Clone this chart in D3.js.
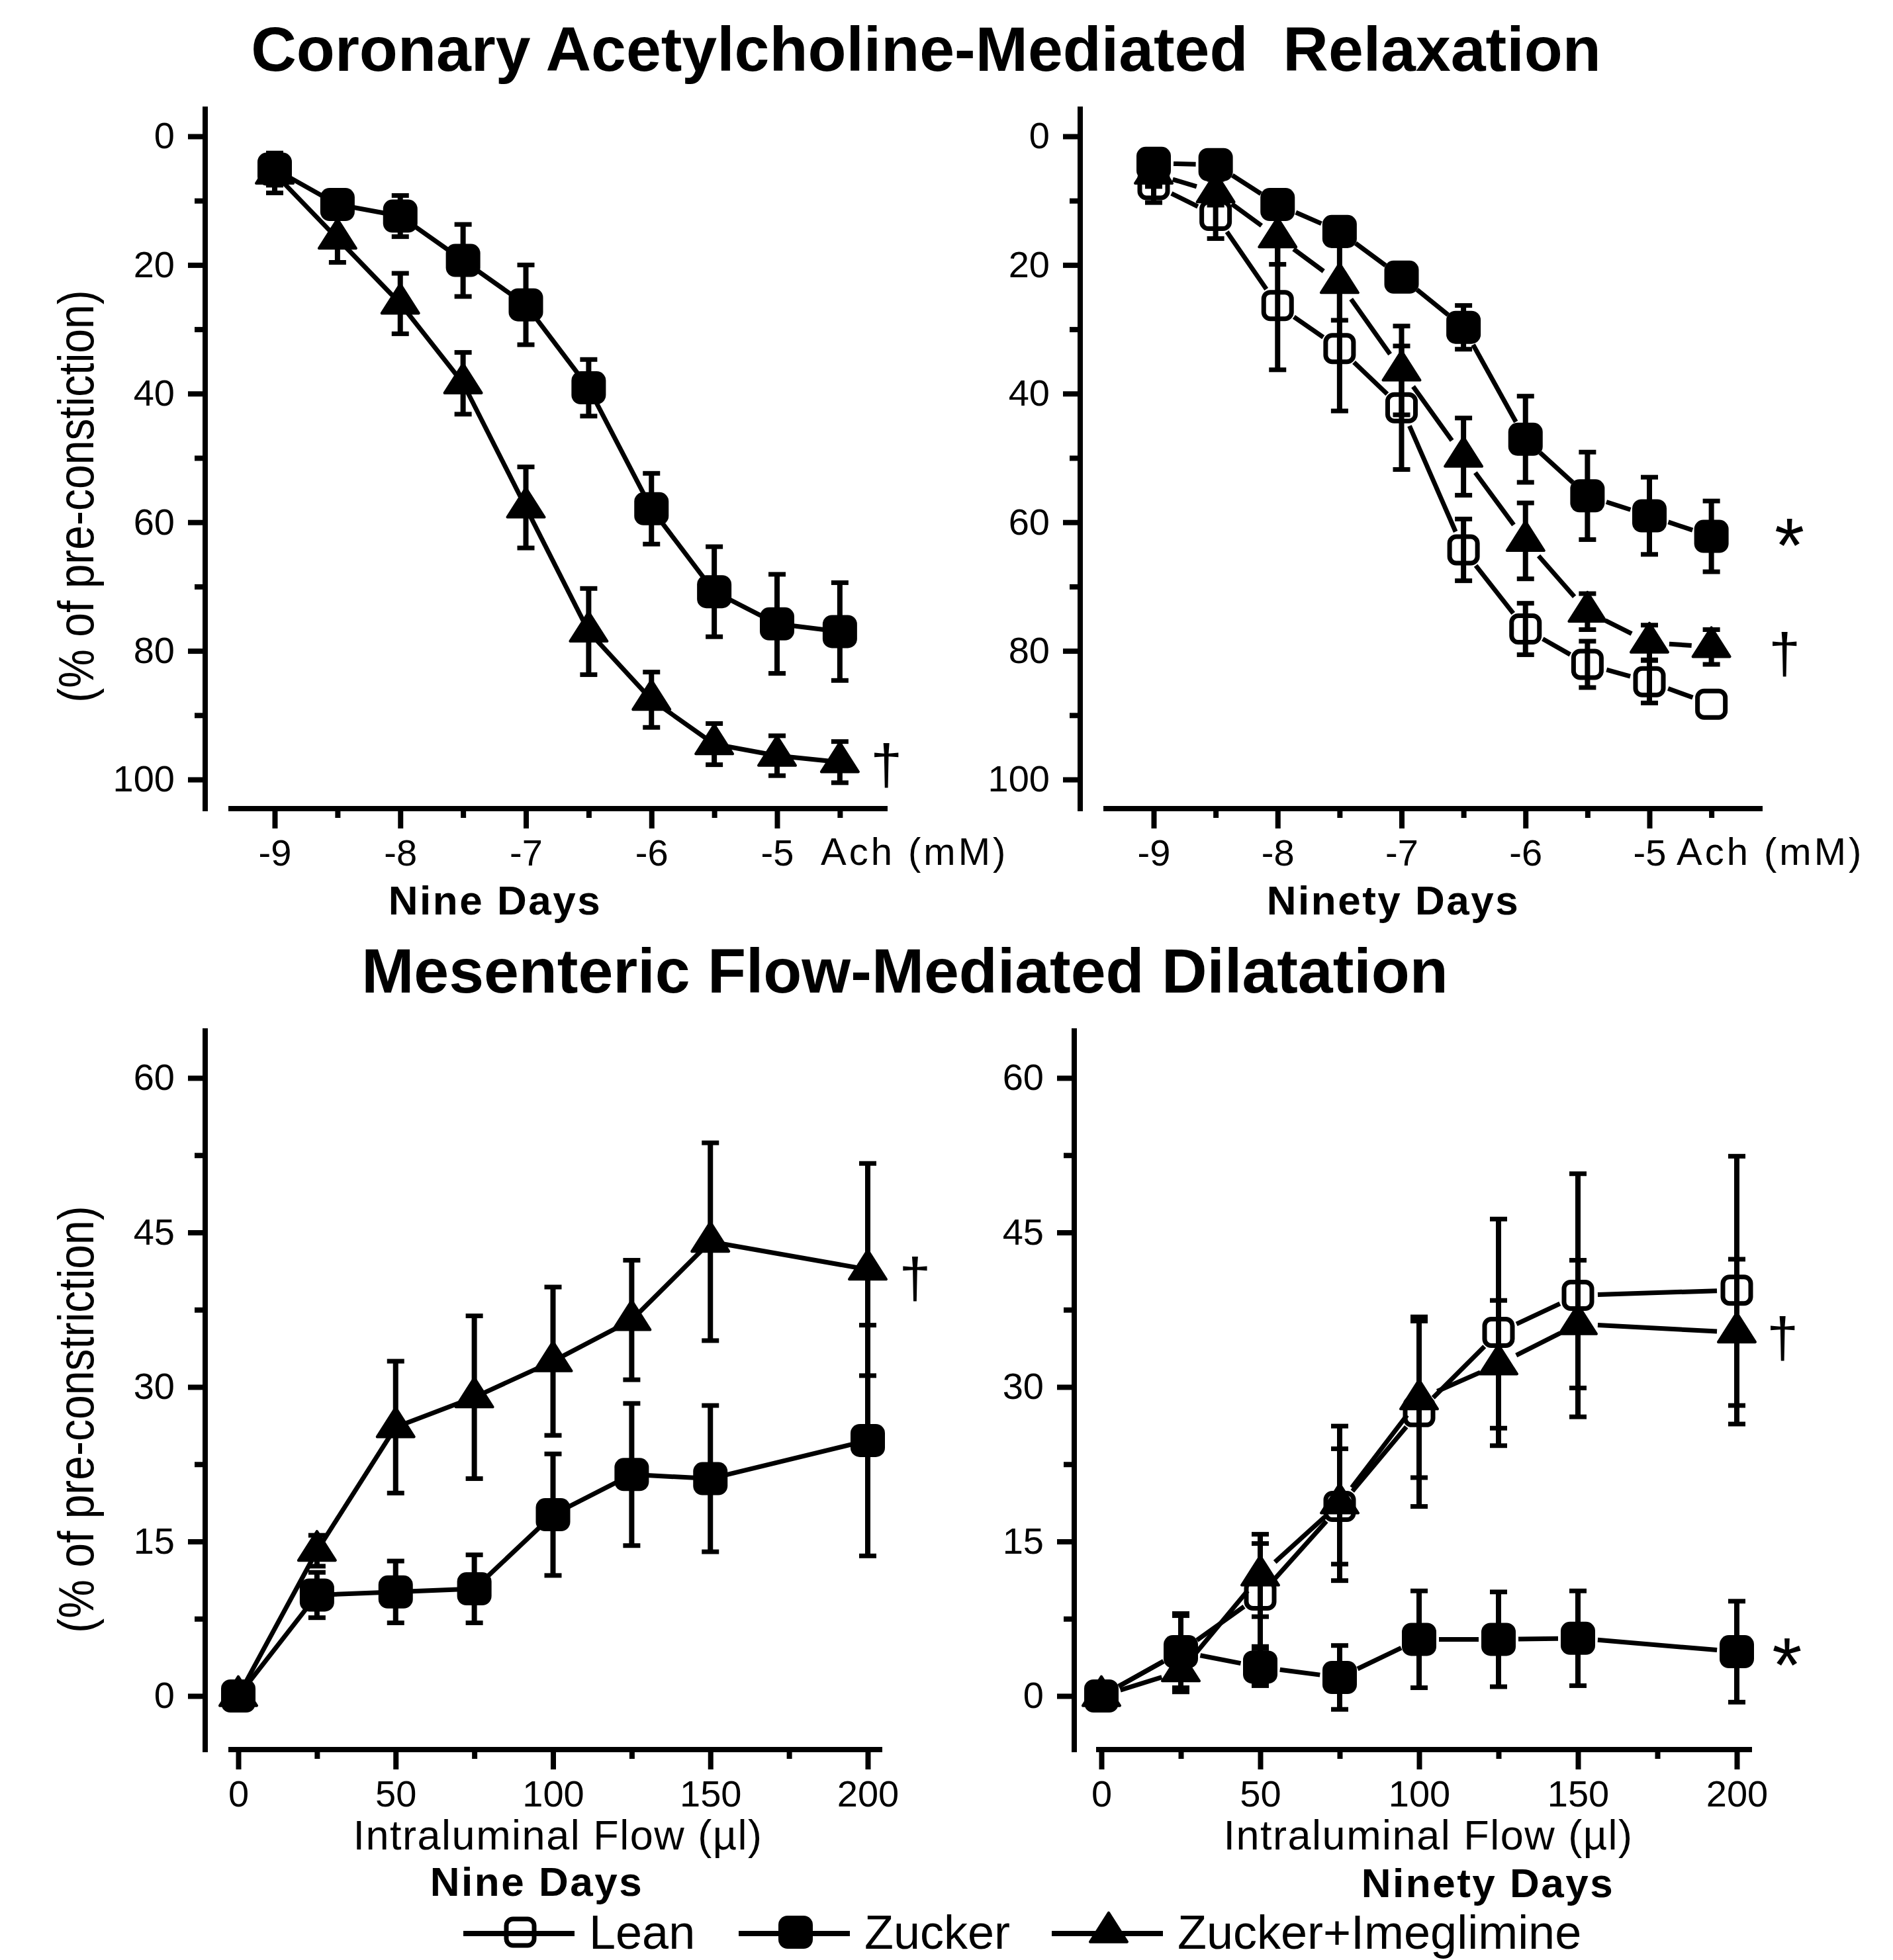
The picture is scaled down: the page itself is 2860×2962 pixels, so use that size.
<!DOCTYPE html>
<html>
<head>
<meta charset="utf-8">
<script src="https://cdn.jsdelivr.net/npm/d3@7"></script>
<style>
  body { margin: 0; background: #fff; }
  svg { display: block; }
  text { font-family: "Liberation Sans", Arial, Helvetica, sans-serif; fill: #000; }
</style>
</head>
<body>
<div id="chart"></div>
<script>
var width = 2860, height = 2962;

// x values
var achDose = [-9, -8.5, -8, -7.5, -7, -6.5, -6, -5.5, -5, -4.5];
var achTicks = [-9, -8, -7, -6, -5];
var achMinor = [-8.5, -7.5, -6.5, -5.5, -4.5];
var flowSteps = [0, 25, 50, 75, 100, 125, 150, 200];
var flowTicks = [0, 50, 100, 150, 200];
var flowMinor = [25, 75, 125, 175];
var relaxTicks = [0, 20, 40, 60, 80, 100];
var relaxMinor = [10, 30, 50, 70, 90];
var dilTicks = [0, 15, 30, 45, 60];
var dilMinor = [7.5, 22.5, 37.5, 52.5];

// coronary ACh relaxation, nine days
var zuckerAch9 = [5.1, 10.6, 12.4, 19.3, 26.2, 39.1, 57.9, 70.8, 75.8, 77.0];
var zuckerAch9Err = [2.5, 1.0, 3.2, 5.6, 6.2, 4.4, 5.5, 7.0, 7.7, 7.6];
var imegAch9 = [5.8, 15.9, 26.0, 38.4, 57.7, 77.0, 87.6, 94.5, 96.3, 97.3];
var imegAch9Err = [3.0, 3.7, 4.7, 4.8, 6.3, 6.7, 4.3, 3.2, 3.1, 3.2];

// coronary ACh relaxation, ninety days
var leanAch90 = [7.5, 12.3, 26.3, 33.0, 42.2, 64.3, 76.6, 82.1, 84.8, 88.3];
var leanAch90Err = [2.8, 3.6, 10.0, 9.7, 9.6, 4.8, 4.0, 3.6, 3.3, 0];
var zuckerAch90 = [4.2, 4.4, 10.6, 14.8, 21.9, 29.7, 47.1, 55.9, 59.0, 62.2];
var zuckerAch90Err = [1.0, 1.0, 1.5, 1.5, 1.0, 3.4, 6.7, 6.8, 6.0, 5.5];
var imegAch90 = [5.8, 8.7, 15.7, 22.8, 36.4, 49.8, 62.9, 73.9, 78.7, 79.4];
var imegAch90Err = [2.0, 2.0, 4.2, 5.8, 6.9, 6.0, 5.9, 2.8, 2.7, 2.7];

// mesenteric flow-mediated dilatation, nine days
var zuckerFlow9 = [0, 9.8, 10.1, 10.4, 17.6, 21.5, 21.1, 24.8];
var zuckerFlow9Err = [0, 2.2, 3.0, 3.3, 5.9, 6.9, 7.1, 11.2];
var imegFlow9 = [0, 14.1, 26.1, 29.0, 32.5, 36.5, 44.1, 41.4];
var imegFlow9Err = [0, 1.5, 6.4, 7.9, 7.2, 5.8, 9.6, 10.3];

// mesenteric flow-mediated dilatation, ninety days
var leanFlow90 = [0, 4.3, 9.8, 18.4, 27.6, 35.3, 38.9, 39.4];
var leanFlow90Err = [0, 3.5, 5.0, 5.6, 9.2, 11.0, 11.8, 13.0];
var zuckerFlow90 = [0, 4.3, 2.8, 1.8, 5.5, 5.5, 5.6, 4.3];
var zuckerFlow90Err = [0, 3.7, 1.8, 3.1, 4.7, 4.6, 4.6, 4.9];
var imegFlow90 = [0, 2.4, 11.7, 18.7, 28.8, 32.2, 36.1, 35.3];
var imegFlow90Err = [0, 2.0, 4.0, 7.5, 7.6, 6.2, 6.2, 7.1];

var groups = ["lean", "zucker", "imeg"];
var groupLabels = ["Lean", "Zucker", "Zucker+Imeglimine"];

var titles = ["Coronary Acetylcholine-Mediated  Relaxation", "Mesenteric Flow-Mediated Dilatation"];

var svg = d3.select("#chart")
    .append("svg")
    .attr("width", width)
    .attr("height", height);

// panel layout
var panels = [
    {
        x: d3.scaleLinear().domain([-9, -5]).range([415, 1174]),
        y: d3.scaleLinear().domain([0, 100]).range([206, 1178]),
        axisX: 310, axisTop: 161, axisY: 1222, axisFrom: 345, axisTo: 1341,
        xTicks: achTicks, xMinor: achMinor, yTicks: relaxTicks, yMinor: relaxMinor,
        xs: achDose, gap: 0,
        series: [
            { key: "zucker", v: zuckerAch9, e: zuckerAch9Err },
            { key: "imeg", v: imegAch9, e: imegAch9Err }
        ],
        unit: { text: "Ach (mM)", x: 1240 },
        sub: { text: "Nine Days", x: 748, y: 1382 },
        ylab: { text: "(% of pre-constiction)", cy: 750 },
        marks: [{ s: "\u2020", x: -4.13, y: 98.5 }]
    },
    {
        x: d3.scaleLinear().domain([-9, -5]).range([1743, 2492]),
        y: d3.scaleLinear().domain([0, 100]).range([206, 1178]),
        axisX: 1632, axisTop: 161, axisY: 1222, axisFrom: 1667, axisTo: 2663,
        xTicks: achTicks, xMinor: achMinor, yTicks: relaxTicks, yMinor: relaxMinor,
        xs: achDose, gap: 30,
        series: [
            { key: "lean", v: leanAch90, e: leanAch90Err },
            { key: "zucker", v: zuckerAch90, e: zuckerAch90Err },
            { key: "imeg", v: imegAch90, e: imegAch90Err }
        ],
        unit: { text: "Ach (mM)", x: 2533 },
        sub: { text: "Ninety Days", x: 2105, y: 1382 },
        marks: [{ s: "*", x: -3.87, y: 62.0 }, { s: "\u2020", x: -3.91, y: 81.2 }]
    },
    {
        x: d3.scaleLinear().domain([0, 200]).range([360, 1311]),
        y: d3.scaleLinear().domain([0, 60]).range([2563, 1629]),
        axisX: 310, axisTop: 1554, axisY: 2644, axisFrom: 345, axisTo: 1333,
        xTicks: flowTicks, xMinor: flowMinor, yTicks: dilTicks, yMinor: dilMinor,
        xs: flowSteps, gap: 0,
        series: [
            { key: "zucker", v: zuckerFlow9, e: zuckerFlow9Err },
            { key: "imeg", v: imegFlow9, e: imegFlow9Err }
        ],
        xlab: { text: "Intraluminal Flow (\u00b5l)", x: 843 },
        sub: { text: "Nine Days", x: 811, y: 2865 },
        ylab: { text: "(% of pre-constriction)", cy: 2145 },
        marks: [{ s: "\u2020", x: 215, y: 40.1 }]
    },
    {
        x: d3.scaleLinear().domain([0, 200]).range([1664, 2624]),
        y: d3.scaleLinear().domain([0, 60]).range([2563, 1629]),
        axisX: 1623, axisTop: 1554, axisY: 2644, axisFrom: 1656, axisTo: 2647,
        xTicks: flowTicks, xMinor: flowMinor, yTicks: dilTicks, yMinor: dilMinor,
        xs: flowSteps, gap: 30,
        series: [
            { key: "lean", v: leanFlow90, e: leanFlow90Err },
            { key: "zucker", v: zuckerFlow90, e: zuckerFlow90Err },
            { key: "imeg", v: imegFlow90, e: imegFlow90Err }
        ],
        xlab: { text: "Intraluminal Flow (\u00b5l)", x: 2158 },
        sub: { text: "Ninety Days", x: 2248, y: 2867 },
        marks: [{ s: "\u2020", x: 214.4, y: 34.3 }, { s: "*", x: 215.8, y: 4.0 }]
    }
];

// marker shapes
function drawMarker(g, key, cx, cy) {
    if (key === "zucker") {
        g.append("rect")
            .attr("x", cx - 26).attr("y", cy - 25)
            .attr("width", 52).attr("height", 50)
            .attr("rx", 14)
            .attr("fill", "#000");
    } else if (key === "lean") {
        g.append("rect")
            .attr("x", cx - 21).attr("y", cy - 20)
            .attr("width", 42).attr("height", 40)
            .attr("rx", 10)
            .attr("fill", "none")
            .attr("stroke", "#000")
            .attr("stroke-width", 7);
    } else {
        var w = 56, h = 44;
        g.append("path")
            .attr("d", "M" + cx + "," + (cy - 2 * h / 3) + "L" + (cx + w / 2) + "," + (cy + h / 3) + "L" + (cx - w / 2) + "," + (cy + h / 3) + "Z")
            .attr("fill", "#000")
            .attr("stroke", "#000")
            .attr("stroke-width", 4)
            .attr("stroke-linejoin", "round");
    }
}

titles.forEach(function (t, i) {
    svg.append("text")
        .attr("x", i === 0 ? 1399 : 1367)
        .attr("y", i === 0 ? 107 : 1500)
        .attr("text-anchor", "middle")
        .style("white-space", "pre")
        .attr("font-weight", "bold")
        .attr("font-size", 95)
        .text(t);
});

panels.forEach(function (p) {
    var g = svg.append("g");
    var x = p.x, y = p.y;

    // axis lines
    g.append("line")
        .attr("x1", p.axisX).attr("x2", p.axisX)
        .attr("y1", p.axisTop).attr("y2", p.axisY + 4)
        .attr("stroke", "#000").attr("stroke-width", 8);
    g.append("line")
        .attr("x1", p.axisFrom).attr("x2", p.axisTo)
        .attr("y1", p.axisY).attr("y2", p.axisY)
        .attr("stroke", "#000").attr("stroke-width", 8);

    // y ticks
    var gy = g.append("g").attr("transform", "translate(" + p.axisX + ",0)");
    gy.call(d3.axisLeft(y).tickValues(p.yTicks).tickSize(26).tickPadding(20).tickFormat(function (d) { return String(d); }));
    gy.append("g").call(d3.axisLeft(y).tickValues(p.yMinor).tickSize(16).tickFormat(""));

    // x ticks
    var gx = g.append("g").attr("transform", "translate(0," + p.axisY + ")");
    gx.call(d3.axisBottom(x).tickValues(p.xTicks).tickSize(30).tickPadding(16).tickFormat(function (d) { return String(d); }));
    gx.append("g").call(d3.axisBottom(x).tickValues(p.xMinor).tickSize(14).tickFormat(""));

    g.selectAll(".domain").remove();
    g.selectAll(".tick line").attr("stroke", "#000").attr("stroke-width", 8);
    g.selectAll(".tick text")
        .attr("font-size", 56)
        .attr("font-family", "'Liberation Sans', Arial, sans-serif")
        .attr("fill", "#000");

    // connecting lines (shortened where the original leaves gaps)
    p.series.forEach(function (s) {
        var pts = p.xs.map(function (d, i) { return [x(d), y(s.v[i])]; });
        d3.pairs(pts).forEach(function (pr) {
            var dx = pr[1][0] - pr[0][0], dy = pr[1][1] - pr[0][1];
            var len = Math.sqrt(dx * dx + dy * dy);
            var k = p.gap / len;
            g.append("line")
                .attr("x1", pr[0][0] + dx * k).attr("y1", pr[0][1] + dy * k)
                .attr("x2", pr[1][0] - dx * k).attr("y2", pr[1][1] - dy * k)
                .attr("stroke", "#000").attr("stroke-width", 7);
        });
    });

    // error bars
    p.series.forEach(function (s) {
        p.xs.forEach(function (d, i) {
            if (!s.e[i]) return;
            var cx = x(d), y1 = y(s.v[i] - s.e[i]), y2 = y(s.v[i] + s.e[i]);
            g.append("line")
                .attr("x1", cx).attr("x2", cx).attr("y1", y1).attr("y2", y2)
                .attr("stroke", "#000").attr("stroke-width", 8);
            [y1, y2].forEach(function (yy) {
                g.append("line")
                    .attr("x1", cx - 13).attr("x2", cx + 13).attr("y1", yy).attr("y2", yy)
                    .attr("stroke", "#000").attr("stroke-width", 7);
            });
        });
    });

    // markers
    p.series.forEach(function (s) {
        p.xs.forEach(function (d, i) {
            drawMarker(g, s.key, x(d), y(s.v[i]));
        });
    });

    // significance symbols
    p.marks.forEach(function (m) {
        var star = m.s === "*";
        g.append("text")
            .attr("x", x(m.x))
            .attr("y", y(m.y) + (star ? 56 : 22))
            .attr("text-anchor", "middle")
            .attr("font-family", "'Liberation Serif', 'Times New Roman', serif")
            .attr("font-size", star ? 116 : 86)
            .text(m.s);
    });

    // axis titles
    if (p.unit) {
        g.append("text")
            .attr("x", p.unit.x).attr("y", p.axisY + 85)
            .attr("font-size", 58)
            .attr("letter-spacing", 4)
            .text(p.unit.text);
    }
    if (p.xlab) {
        g.append("text")
            .attr("x", p.xlab.x).attr("y", 2795)
            .attr("text-anchor", "middle")
            .attr("font-size", 63)
            .attr("letter-spacing", 1.5)
            .text(p.xlab.text);
    }
    g.append("text")
        .attr("x", p.sub.x).attr("y", p.sub.y)
        .attr("text-anchor", "middle")
        .attr("font-weight", "bold")
        .attr("font-size", 62)
        .attr("letter-spacing", 2.5)
        .text(p.sub.text);
    if (p.ylab) {
        g.append("text")
            .attr("transform", "translate(141," + p.ylab.cy + ") rotate(-90) scale(1,1.15)")
            .attr("text-anchor", "middle")
            .attr("font-size", 66)
            .text(p.ylab.text);
    }
});

// legend
var legendStart = [700, 1116, 1589];
var legend = svg.append("g");
groups.forEach(function (key, i) {
    var x0 = legendStart[i];
    legend.append("line")
        .attr("x1", x0).attr("x2", x0 + 168)
        .attr("y1", 2922).attr("y2", 2922)
        .attr("stroke", "#000").attr("stroke-width", 8);
    drawMarker(legend, key, x0 + 86, 2920);
    legend.append("text")
        .attr("x", x0 + 190).attr("y", 2945)
        .attr("font-size", 72)
        .text(groupLabels[i]);
});
</script>
</body>
</html>
